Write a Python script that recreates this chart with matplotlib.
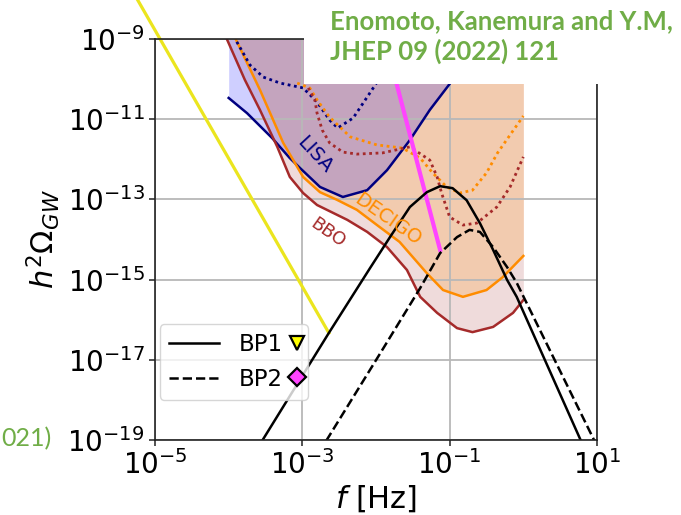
import matplotlib
matplotlib.use("Agg")
import matplotlib.pyplot as plt
import numpy as np
from matplotlib.lines import Line2D
from matplotlib.offsetbox import DrawingArea
from matplotlib.patches import Rectangle

# sensitivity curves, log10 f [Hz] / log10 h^2 Omega_GW
lisa_lf = [-4.0, -3.75, -3.41, -3.17, -3.03, -2.76, -2.45, -2.12, -1.85, -1.54, -1.27, -1.0, -0.6]
lisa_lo = [-10.47, -10.85, -11.47, -11.97, -12.22, -12.69, -12.94, -12.77, -12.27, -11.52, -10.77, -10.12, -9.0]

decigo_lf = [-3.9, -3.575, -3.26, -2.99, -2.76, -2.53, -2.26, -1.95, -1.68, -1.31, -1.09, -0.82, -0.5, -0.28, 0.0]
decigo_lo = [-9.02, -10.27, -11.59, -12.44, -12.82, -13.01, -13.26, -13.69, -14.06, -14.84, -15.26, -15.43, -15.26, -14.94, -14.41]

bbo_lf = [-4.02, -3.78, -3.575, -3.34, -3.17, -2.99, -2.8, -2.39, -2.12, -1.85, -1.58, -1.4, -1.17, -0.9, -0.69, -0.41, -0.14, 0.0]
bbo_lo = [-9.02, -10.02, -10.77, -11.69, -12.44, -12.84, -13.14, -13.51, -13.81, -14.19, -14.76, -15.43, -15.83, -16.21, -16.31, -16.18, -15.83, -15.51]

# dotted variants
lisa2_lf = [-3.89, -3.71, -3.53, -3.3, -2.99, -2.8, -2.63, -2.52, -2.31, -2.03, -1.88]
lisa2_lo = [-9.07, -9.65, -9.95, -10.1, -10.22, -10.57, -11.02, -11.22, -10.97, -10.2, -9.77]

decigo2_lf = [-3.07, -2.9, -2.8, -2.63, -2.35, -1.99, -1.64, -1.4, -1.23, -1.04, -0.86, -0.69, -0.5, -0.35, 0.0]
decigo2_lo = [-10.1, -10.22, -10.52, -10.95, -11.44, -11.64, -11.72, -11.97, -12.34, -12.69, -12.84, -12.77, -12.34, -11.84, -10.92]

bbo2_lf = [-2.92, -2.83, -2.8, -2.73, -2.63, -2.45, -2.26, -1.91, -1.54, -1.27, -1.17, -1.11, -1.0, -0.82, -0.63, -0.36, -0.18, 0.0]
bbo2_lo = [-10.22, -10.52, -10.85, -11.27, -11.59, -11.82, -11.87, -11.84, -11.69, -12.02, -12.44, -12.84, -13.44, -13.64, -13.59, -13.19, -12.69, -11.94]

# benchmark spectra
bp1_lf = [-3.64, -2.64, -2.08, -1.81, -1.54, -1.31, -1.13, -0.96, -0.77, -0.59, -0.41, -0.22, -0.09, 0.85]
bp1_lo = [-19.3, -16.33, -14.71, -13.94, -13.19, -12.82, -12.67, -12.72, -13.02, -13.59, -14.26, -15.01, -15.43, -19.3]

bp2_lf = [-2.77, -1.95, -1.4, -1.13, -0.9, -0.73, -0.59, -0.41, -0.22, -0.09, 1.04]
bp2_lo = [-19.3, -16.86, -15.21, -14.34, -13.94, -13.76, -13.81, -14.19, -14.69, -15.08, -19.3]

# peak trajectories
bp1_track_lf = [-5.25, -2.64]
bp1_track_lo = [-7.98, -16.33]
bp2_track_lf = [-1.83, -1.13]
bp2_track_lo = [-9.35, -14.26]


def pw(a):
    return 10.0 ** np.asarray(a)


fig = plt.figure(figsize=(6.81, 5.15), dpi=100)
ax = fig.add_axes([155 / 681, 75 / 515, 442 / 681, 401 / 515])
ax.set_xscale("log"); ax.set_yscale("log")
ax.set_xlim(1e-5, 1e1); ax.set_ylim(1e-19, 1e-9)

TOP = 1e-9
ax.fill_between(pw(bbo_lf), pw(bbo_lo), TOP, color="brown", alpha=0.17, lw=0)
ax.fill_between(pw(decigo_lf), pw(decigo_lo), TOP, color="darkorange", alpha=0.2, lw=0)
ax.fill_between(pw(lisa_lf), pw(lisa_lo), TOP, color="blue", alpha=0.19, lw=0)

ax.plot(pw(lisa_lf), pw(lisa_lo), color="navy", lw=1.8)
ax.plot(pw(decigo_lf), pw(decigo_lo), color="darkorange", lw=1.8)
ax.plot(pw(bbo_lf), pw(bbo_lo), color="brown", lw=1.8)
dots = (0, (1, 1.3))
ax.plot(pw(lisa2_lf), pw(lisa2_lo), color="navy", lw=2, ls=dots)
ax.plot(pw(decigo2_lf), pw(decigo2_lo), color="darkorange", lw=2, ls=dots)
ax.plot(pw(bbo2_lf), pw(bbo2_lo), color="brown", lw=2, ls=dots)

ax.plot(pw(bp1_track_lf), pw(bp1_track_lo), color="#ebe51e", lw=2.3, clip_on=False)
ax.plot(pw(bp2_track_lf), pw(bp2_track_lo), color="#ff44ff", lw=3)

ax.plot(pw(bp1_lf), pw(bp1_lo), color="black", lw=1.8, label="BP1")
ax.plot(pw(bp2_lf), pw(bp2_lo), color="black", lw=1.8, ls="--", label="BP2")

ax.text(10 ** -2.83, 10 ** -11.9, "LISA", color="navy", fontsize=14, rotation=-47,
        ha="center", va="center", rotation_mode="anchor")
ax.text(10 ** -1.84, 10 ** -13.49, "DECIGO", color="darkorange", fontsize=14, rotation=-35,
        ha="center", va="center", rotation_mode="anchor")
ax.text(10 ** -2.65, 10 ** -13.84, "BBO", color="brown", fontsize=13, rotation=-35,
        ha="center", va="center", rotation_mode="anchor")

ax.set_xticks([1e-5, 1e-3, 1e-1, 1e1])
ax.set_yticks([1e-19, 1e-17, 1e-15, 1e-13, 1e-11, 1e-9])
ax.minorticks_off()
ax.tick_params(labelsize=20, length=4, width=1.2, color="#333333")
ax.grid(True, color="#b8b8b8", lw=1.3)
for s in ax.spines.values():
    s.set_linewidth(1.2); s.set_color("#222222")
ax.set_xlabel(r"$f$ [Hz]", fontsize=22, labelpad=2)
ax.set_ylabel(r"$h^2\Omega_{GW}$", fontsize=22, labelpad=4)

fs = 16.5
leg = ax.legend(loc="lower left", bbox_to_anchor=(0.011, 0.10), borderaxespad=0, fontsize=fs,
                handlelength=2.18, handletextpad=0.87)

# point marker after each legend label
rows = leg._legend_handle_box.get_children()[0].get_children()
for row, m, c in zip(rows, ["v", "D"], ["yellow", "#ff44ff"]):
    da = DrawingArea(-3.0, 0.7 * fs, 0, 0)
    da.add_artist(Line2D([-4.3], [0.38 * fs], marker=m, ms=10 if m == "v" else 9,
                         mfc=c, mec="black", mew=1.6, ls="none"))
    row.get_children().append(da)

# slide box with the reference text
fig.add_artist(Rectangle((304 / 681, 1 - 84 / 515), 1, 84 / 515, transform=fig.transFigure,
                         fc="white", ec="none", zorder=5))
green = "#70ad47"
fig.text(330 / 681, 1 - 29 / 515, "Enomoto, Kanemura and Y.M,", color=green, fontsize=18.5,
         fontweight="bold", family="Lato", va="baseline", zorder=6)
fig.text(330 / 681, 1 - 60 / 515, "JHEP 09 (2022) 121", color=green, fontsize=18.5,
         fontweight="bold", family="Lato", va="baseline", zorder=6)
fig.text(1 / 681, 1 - 446 / 515, "021)", color=green, fontsize=18, family="Lato",
         ha="left", va="baseline")

fig.savefig("out.png", dpi=100)
